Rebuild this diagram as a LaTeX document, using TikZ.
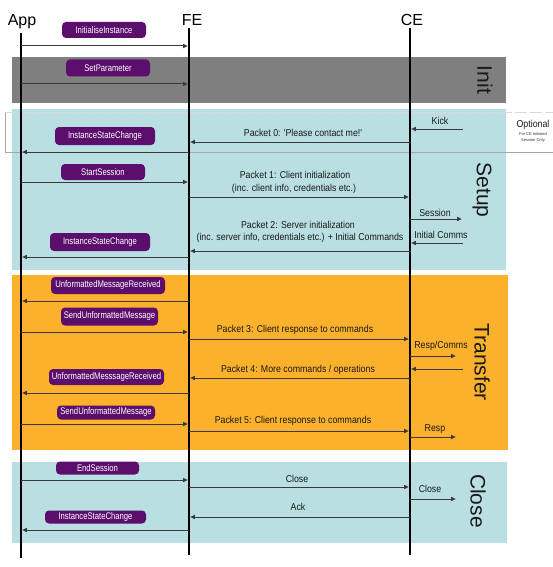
\documentclass[tikz,border=0pt]{standalone}
\usepackage{fontspec}
\setmainfont{Liberation Sans}
\newfontfamily\pillfont[FakeStretch=0.8]{Liberation Sans}
\newfontfamily\lblfont[FakeStretch=0.88]{Liberation Sans}
\usetikzlibrary{arrows.meta}
\definecolor{bandgray}{HTML}{7F7F7F}
\definecolor{bandblue}{HTML}{B9DFE3}
\definecolor{bandorange}{HTML}{FBB12B}
\definecolor{pillpurple}{HTML}{5B0E6B}
\definecolor{arrowgray}{HTML}{3A3A3A}
\begin{document}
\begin{tikzpicture}[x=1pt,y=-1pt,
 lifeline/.style={line width=2.4pt,black},
 msg/.style={draw=arrowgray,line width=1pt,-{Triangle[length=4.5pt,width=4pt]},shorten >=1.3pt},
 pill/.style={fill=pillpurple,rounded corners=4pt,text=white,font=\pillfont\fontsize{9.6}{10}\selectfont,inner sep=0pt},
 lbl/.style={font=\lblfont\fontsize{10}{11}\selectfont,inner sep=0pt,text=black!90},
 head/.style={font=\fontsize{16}{18}\selectfont,inner sep=0pt},
 phase/.style={font=\fontsize{21}{24}\selectfont,rotate=-90,inner sep=0pt,text=black!90}]
\useasboundingbox (0,0) rectangle (553,567);
% bands
\fill[bandgray] (12,57) rectangle (506,103);
\fill[bandblue] (12,109) rectangle (506,270);
\fill[bandorange] (12,275) rectangle (508,450);
\fill[bandblue] (12,462) rectangle (507,543);
% optional box
\draw[gray!70,line width=0.8pt] (560,152) -- (5,152) -- (5,112);
\draw[white!70!gray,line width=0.8pt,dash pattern=on 12pt off 3pt] (5,112) -- (560,112);
% phase labels
\node[phase] (pInit) at (485,80) {Init};
\node[phase] (pSetup) at (482,190) {Setup};
\node[phase] (pTransfer) at (482,362) {Transfer};
\node[phase] (pClose) at (478,501) {Close};
\node[lbl] (opt) at (533,125) {Optional};
\node[font=\fontsize{4}{5}\selectfont,inner sep=0pt,text=black!80] (opt2) at (533,134.5) {For CE Initiated};
\node[font=\fontsize{4}{5}\selectfont,inner sep=0pt,text=black!80] (opt3) at (533,140.5) {Session Only};
% heads and lifelines
\node[head] (App) at (22,22) {App};
\node[head] (FE) at (192,20) {FE};
\node[head] (CE) at (412,20) {CE};
\coordinate (aT) at (21,33); \coordinate (aB) at (21,558);
\coordinate (fT) at (189,28); \coordinate (fB) at (189,555);
\coordinate (cT) at (410,28); \coordinate (cB) at (410,555);
\draw[lifeline] (aT) -- (aB);
\draw[lifeline] (fT) -- (fB);
\draw[lifeline] (cT) -- (cB);
% outer ends
\coordinate (ext) at (463,0);
\coordinate (ext2) at (457,0);
% Init
\draw[msg] (aT |- 0,46) -- (fT |- 0,46);
\draw[msg] (aT |- 0,84) -- (fT |- 0,84);
% Setup
\draw[msg] (ext |- 0,129) -- (cT |- 0,129);
\draw[msg] (cT |- 0,142) -- (fT |- 0,142);
\draw[msg] (fT |- 0,152) -- (aT |- 0,152);
\draw[msg] (aT |- 0,182) -- (fT |- 0,182);
\draw[msg] (fT |- 0,197) -- (cT |- 0,197);
\draw[msg] (cT |- 0,219) -- (ext |- 0,219);
\draw[msg] (ext |- 0,243) -- (cT |- 0,243);
\draw[msg] (cT |- 0,251) -- (fT |- 0,251);
\draw[msg] (fT |- 0,257) -- (aT |- 0,257);
% Transfer
\draw[msg] (fT |- 0,301) -- (aT |- 0,301);
\draw[msg] (aT |- 0,332) -- (fT |- 0,332);
\draw[msg] (fT |- 0,339) -- (cT |- 0,339);
\draw[msg] (cT |- 0,356) -- (ext2 |- 0,356);
\draw[msg] (ext |- 0,369) -- (cT |- 0,369);
\draw[msg] (cT |- 0,378) -- (fT |- 0,378);
\draw[msg] (fT |- 0,393) -- (aT |- 0,393);
\draw[msg] (aT |- 0,424) -- (fT |- 0,424);
\draw[msg] (fT |- 0,431) -- (cT |- 0,431);
\draw[msg] (cT |- 0,437) -- (ext2 |- 0,437);
% Close
\draw[msg] (aT |- 0,480) -- (fT |- 0,480);
\draw[msg] (fT |- 0,487) -- (cT |- 0,487);
\draw[msg] (cT |- 0,499) -- (ext2 |- 0,499);
\draw[msg] (cT |- 0,517) -- (fT |- 0,517);
\draw[msg] (fT |- 0,530) -- (aT |- 0,530);
% pills
\node[pill,minimum width=84pt,minimum height=16pt] (m1) at (104,30) {InitialiseInstance};
\node[pill,minimum width=84pt,minimum height=17pt] (m2) at (108,68) {SetParameter};
\node[pill,minimum width=100pt,minimum height=18pt] (m3) at (105,136) {InstanceStateChange};
\node[pill,minimum width=84pt,minimum height=16pt] (m4) at (103,172) {StartSession};
\node[pill,minimum width=100pt,minimum height=18pt] (m5) at (100,242) {InstanceStateChange};
\node[pill,minimum width=114pt,minimum height=17pt] (m6) at (108,285.5) {UnformattedMessageReceived};
\node[pill,minimum width=97pt,minimum height=18pt] (m7) at (109.5,316.5) {SendUnformattedMessage};
\node[pill,minimum width=115pt,minimum height=16pt] (m8) at (106.5,377) {UnformattedMesssageReceived};
\node[pill,minimum width=98pt,minimum height=14pt] (m9) at (106,412.5) {SendUnformattedMessage};
\node[pill,minimum width=83pt,minimum height=13pt] (m10) at (97.5,468) {EndSession};
\node[pill,minimum width=101pt,minimum height=13pt] (m11) at (95.5,517) {InstanceStateChange};
% labels
\node[lbl] (lKick) at (440,121) {Kick};
\node[lbl] (l0) at (303,133) {Packet 0: 'Please contact me!'};
\node[lbl] (l1a) at (295,175) {Packet 1: Client initialization};
\node[lbl] (l1b) at (294,189) {(inc. client info, credentials etc.)};
\node[lbl] (lSess) at (435,213) {Session};
\node[lbl] (l2a) at (298,225) {Packet 2: Server initialization};
\node[lbl] (l2b) at (300,238) {(inc. server info, credentials etc.) + Initial Commands};
\node[lbl] (lInit) at (441,235) {Initial Comms};
\node[lbl] (l3) at (295,330) {Packet 3: Client response to commands};
\node[lbl] (lRC) at (441,346) {Resp/Comms};
\node[lbl] (l4) at (298,370) {Packet 4: More commands / operations};
\node[lbl] (l5) at (293,421) {Packet 5: Client response to commands};
\node[lbl] (lResp) at (435,429) {Resp};
\node[lbl] (lClose) at (297,479) {Close};
\node[lbl] (lClose2) at (430,489) {Close};
\node[lbl] (lAck) at (298,507) {Ack};
\end{tikzpicture}
\end{document}
